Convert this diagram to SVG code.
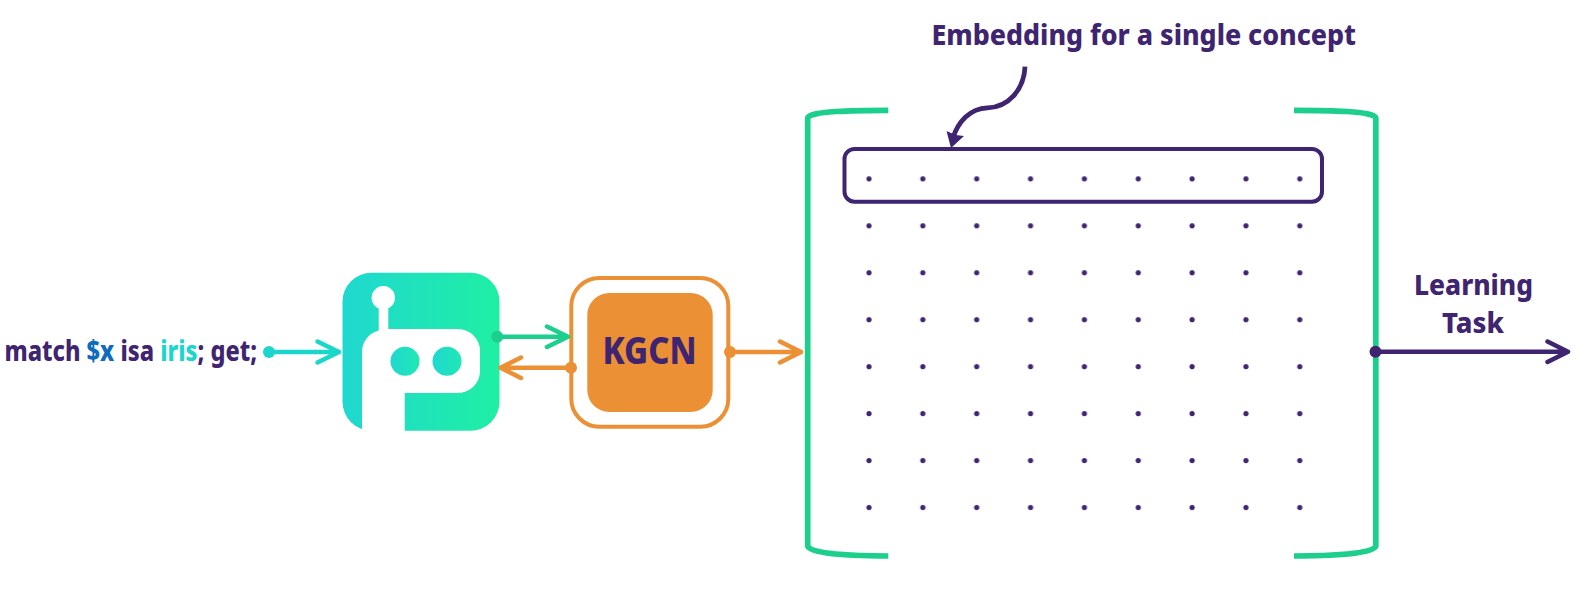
<svg xmlns="http://www.w3.org/2000/svg" width="1586" height="594" viewBox="0 0 1586 594">
<style>
text{font-family:"Noto Sans","Liberation Sans",sans-serif;font-weight:800;fill:#3e2471}
.a{fill:none;stroke-width:4.500;stroke-linecap:round;stroke-linejoin:round}
.t{stroke:#1bd6cb}.g{stroke:#1ccf8d}.o{stroke:#eb9034}.p{stroke:#3e2471}
.d{fill:#3e2471}
.b{fill:none;stroke:#1ccf8d;stroke-width:5.700}
</style>
<defs>
<linearGradient id="bot" x1="0" x2="1" y1="0" y2="0"><stop offset="0" stop-color="#1fd8d0"/><stop offset="1" stop-color="#1fefa3"/></linearGradient>
<linearGradient id="eye" x1="0" x2="1" y1="0" y2="0"><stop offset="0" stop-color="#1fd8d0"/><stop offset="1" stop-color="#1fe8b4"/></linearGradient>
<pattern id="dots" x="842" y="155.300" width="53.850" height="46.950" patternUnits="userSpaceOnUse"><circle cx="27" cy="23.500" r="2.600" class="d"/></pattern>
</defs>
<g id="query">
<text transform="translate(4.500 361) scale(.841 1)" font-size="28">match <tspan fill="#0f6cbd">$x</tspan> isa <tspan fill="#1bd6cb">iris</tspan>; get;</text>
</g>
<g id="robot">
<rect x="342.500" y="272.700" width="157" height="158" rx="29" fill="url(#bot)"/>
<path d="M362 431V351a22 22 0 0 1 16.700-20.500V306h9.600v23H458a22 22 0 0 1 22 22v20a22 22 0 0 1-22 22h-53.300v38z" fill="#fff"/>
<circle cx="383.300" cy="297.700" r="11.700" fill="#fff"/>
<circle cx="405" cy="361.300" r="14.500" fill="url(#eye)"/>
<circle cx="447" cy="361.300" r="14.500" fill="url(#eye)"/>
</g>
<g id="kgcn">
<rect x="571.300" y="278" width="157" height="148.700" rx="28" fill="#fff" stroke="#eb9034" stroke-width="4"/>
<rect x="587.300" y="293" width="125.400" height="119" rx="22" fill="#eb9034"/>
<text x="602.500" y="364.300" font-size="38" textLength="94" lengthAdjust="spacingAndGlyphs">KGCN</text>
</g>
<g id="embedding">
<path class="b" d="M888.300 110.300C855 110.300 808.500 111 807.700 118V546C808.500 554 855 556 888.300 556"/>
<path class="b" d="M1294 110.300C1328 110.300 1375 111 1375.800 118V546C1375 554 1328 556 1294 556"/>
<rect x="842" y="155.300" width="484" height="376" fill="url(#dots)"/>
<rect x="844.500" y="149" width="477.500" height="52.700" rx="10" fill="none" stroke="#3e2471" stroke-width="4"/>
</g>
<g id="labels">
<text x="931.500" y="45" font-size="29" textLength="424.500" lengthAdjust="spacingAndGlyphs">Embedding for a single concept</text>
<text x="1414" y="295" font-size="29" textLength="119" lengthAdjust="spacingAndGlyphs">Learning</text>
<text x="1442" y="332.700" font-size="29" textLength="62" lengthAdjust="spacingAndGlyphs">Task</text>
</g>
<g id="connectors">
<circle cx="269" cy="352" r="6" fill="#1bd6cb"/>
<path class="a t" d="M269 352H339M317.500 341.500L339 352L317.500 362.500"/>
<circle cx="497.300" cy="336.700" r="6" fill="#1ccf8d"/>
<path class="a g" d="M497.300 336.700H568M547 326.500L568 336.700L547 347"/>
<circle cx="571" cy="367.700" r="6" fill="#eb9034"/>
<path class="a o" d="M571 367.700H500.500M521 357.500L500.500 367.700L521 378"/>
<circle cx="730" cy="352" r="6" fill="#eb9034"/>
<path class="a o" d="M730 352H801M780 341.500L801 352L780 362.500"/>
<circle cx="1375.500" cy="351.700" r="6" fill="#3e2471"/>
<path class="a p" d="M1375.500 351.700H1568M1547.500 341.500L1568 351.700L1547.500 362"/>
<path d="M1025 66.700C1024 90 1008 107.300 987.300 107.800C970 108.300 958 122 953 138" fill="none" stroke="#3e2471" stroke-width="4.800"/>
<path d="M951 148L946.500 131L955.500 135L964 136z" fill="#3e2471"/>
</g>
</svg>
